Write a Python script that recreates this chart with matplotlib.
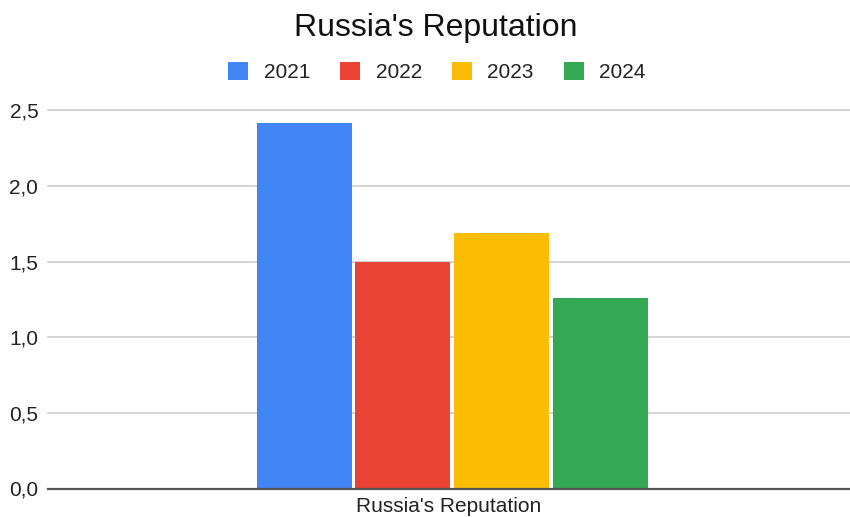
import matplotlib
matplotlib.use("Agg")
import matplotlib.pyplot as plt
from matplotlib.patches import Patch

plt.rcParams['font.family'] = ['Liberation Sans', 'DejaVu Sans']

# Data
years = ["2021", "2022", "2023", "2024"]
values = [2.42, 1.50, 1.69, 1.26]
colors = ["#4285F4", "#EA4335", "#FBBC04", "#34A853"]
category = "Russia's Reputation"
y_ticks = [0.0, 0.5, 1.0, 1.5, 2.0, 2.5]
y_tick_labels = ["0,0", "0,5", "1,0", "1,5", "2,0", "2,5"]

fig = plt.figure(figsize=(8.5, 5.17), dpi=100)
ax = fig.add_axes([48 / 850, 28.5 / 517, 802 / 850, 378 / 517])

bar_w = 0.1185
step = 0.123
offset = 0.004
for i, (yr, v, c) in enumerate(zip(years, values, colors)):
    ax.bar(offset + (i - 1.5) * step, v, width=bar_w, color=c, label=yr, zorder=3)

ax.set_xlim(-0.5, 0.5)
ax.set_ylim(0, 2.5)
ax.set_yticks(y_ticks)
ax.set_yticklabels(y_tick_labels, fontsize=15, color="#222222")
ax.set_xticks([0])
ax.set_xticklabels([category], fontsize=15, color="#222222")
ax.tick_params(axis='both', length=0)
ax.tick_params(axis='y', pad=7)
ax.tick_params(axis='x', pad=6)

ax.grid(axis='y', color="#cccccc", linewidth=1.2, zorder=0)
for ln in ax.get_ygridlines():
    ln.set_clip_on(False)
for s in ["top", "right", "left"]:
    ax.spines[s].set_visible(False)
ax.spines["bottom"].set_color("#555555")
ax.spines["bottom"].set_linewidth(1.6)
ax.spines["bottom"].set_zorder(4)

fig.text(436 / 850, 1 - 28 / 517, category, ha='center', va='center',
         fontsize=23, color="#111111")

handles = [Patch(facecolor=c, edgecolor='none', label=y) for y, c in zip(years, colors)]
fig.legend(handles=handles, loc='center', bbox_to_anchor=(437 / 850, 1 - 72 / 517),
           ncol=4, frameon=False, fontsize=15, handlelength=0.95, handleheight=0.95,
           handletextpad=0.75, columnspacing=1.45, labelcolor="#222222")

fig.savefig("out.png", dpi=100, facecolor="white")
